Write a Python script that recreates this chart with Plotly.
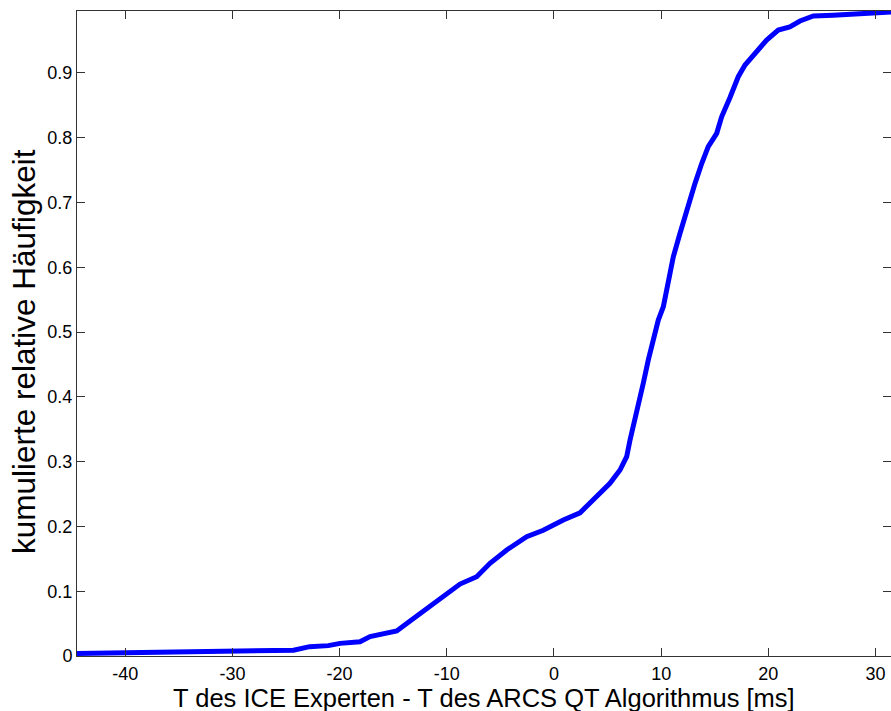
import plotly.graph_objects as go

# ECDF curve (x in ms, y cumulative relative frequency)
x_vals = [-44.5, -40.9, -38.1, -29.0, -24.3, -22.8, -21.05, -19.96, -18.1, -17.16,
          -15.9, -14.67, -13.74, -12.19, -10.33, -8.77, -7.21, -5.97, -4.41, -2.55,
          -1.0, 0.87, 2.43, 3.98, 5.22, 6.16, 6.78, 7.09, 7.56, 8.02,
          8.33, 8.8, 9.26, 9.73, 10.2, 10.66, 11.13, 11.75, 12.38, 13.15,
          13.78, 14.39, 15.18, 15.64, 16.42, 17.19, 17.82, 18.75, 19.84, 20.92,
          22.0, 22.95, 24.2, 26.05, 28.2, 30.1, 31.44]
y_vals = [0.004, 0.005, 0.006, 0.008, 0.009, 0.0144, 0.016, 0.0195, 0.022, 0.030,
          0.034, 0.0386, 0.050, 0.069, 0.0915, 0.111, 0.1224, 0.143, 0.1636, 0.184,
          0.194, 0.21, 0.221, 0.246, 0.2665, 0.287, 0.3076, 0.333, 0.364, 0.395,
          0.421, 0.457, 0.488, 0.5185, 0.539, 0.580, 0.616, 0.652, 0.688, 0.729,
          0.760, 0.786, 0.8066, 0.832, 0.862, 0.894, 0.912, 0.930, 0.9506, 0.966,
          0.971, 0.980, 0.9877, 0.989, 0.9907, 0.993, 0.9938]

x_ticks = [-40, -30, -20, -10, 0, 10, 20, 30]
x_tick_labels = ["-40", "-30", "-20", "-10", "0", "10", "20", "30"]
y_ticks = [0, 0.1, 0.2, 0.3, 0.4, 0.5, 0.6, 0.7, 0.8, 0.9]
y_tick_labels = ["0", "0.1", "0.2", "0.3", "0.4", "0.5", "0.6", "0.7", "0.8", "0.9"]

x_title = "T des ICE Experten - T des ARCS QT Algorithmus [ms]"
y_title = "kumulierte relative Häufigkeit"

FONT = "Liberation Sans, Arial, sans-serif"

fig = go.Figure()
fig.add_trace(go.Scatter(x=x_vals, y=y_vals, mode="lines",
                         line=dict(color="#0000ff", width=5), showlegend=False))
# invisible trace for right-side mirrored y ticks
fig.add_trace(go.Scatter(x=[x_vals[0]], y=[y_vals[0]], yaxis="y2", mode="lines",
                         line=dict(width=0), showlegend=False, hoverinfo="skip"))

fig.update_layout(
    width=891, height=711,
    margin=dict(l=77, r=0, t=11, b=55),
    paper_bgcolor="white", plot_bgcolor="white",
    font=dict(family=FONT, color="black"),
    xaxis=dict(range=[-44.5, 31.44], tickvals=x_ticks, ticktext=x_tick_labels,
               ticks="inside", ticklen=8,
               tickcolor="#333333", showline=True, linecolor="#333333", linewidth=1,
               mirror="ticks", showgrid=False, zeroline=False,
               ticklabelstandoff=1,
               tickfont=dict(size=18, family=FONT)),
    yaxis=dict(range=[0, 0.9954], tickvals=y_ticks, ticktext=y_tick_labels,
               ticks="inside", ticklen=8, tickcolor="#333333", showline=True,
               linecolor="#333333", linewidth=1, mirror=False, showgrid=False,
               zeroline=False, tickfont=dict(size=18, family=FONT)),
    yaxis2=dict(overlaying="y", side="right", matches="y", tickvals=y_ticks,
                ticks="inside", ticklen=8, tickcolor="#333333", showline=False,
                showticklabels=False, showgrid=False, zeroline=False),
    annotations=[
        dict(text=x_title, xref="paper", yref="paper", x=0.5, y=-0.0655,
             xanchor="center", yanchor="middle", showarrow=False,
             font=dict(size=25.5, family=FONT, color="black")),
        dict(text=y_title, xref="paper", yref="paper", x=(24 - 77) / 814, y=0.4713,
             xanchor="center", yanchor="middle", showarrow=False, textangle=-90,
             font=dict(size=31.5, family=FONT, color="black")),
    ],
)

fig.write_html("out.html")
